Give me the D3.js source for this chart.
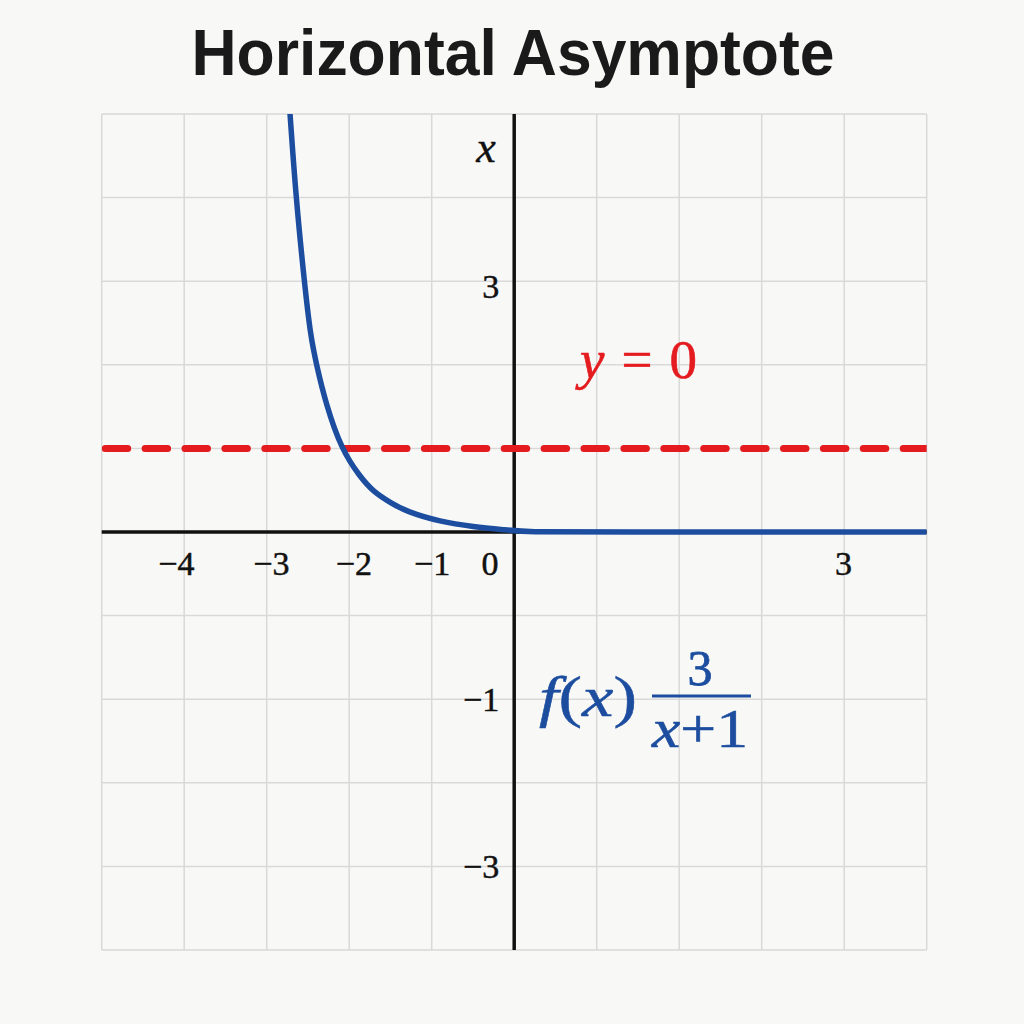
<!DOCTYPE html>
<html>
<head>
<meta charset="utf-8">
<script src="https://cdn.jsdelivr.net/npm/d3@7/dist/d3.min.js"></script>
<style>
  html, body { margin: 0; padding: 0; background: #f8f8f6; }
  svg { display: block; }
</style>
</head>
<body>
<svg id="chart" width="1024" height="1024"></svg>
<script>
// ---------- data ----------
const titleText = "Horizontal Asymptote";
const gridValues = [-5, -4, -3, -2, -1, 0, 1, 2, 3, 4, 5];
// curve (x, y in grid units)
const curveX = [-2.718, -2.645, -2.544, -2.468, -2.396, -2.285, -2.091, -1.869, -1.708, -1.493, -1.303, -0.899, -0.496, -0.091, 0.15, 1, 5];
const curveY = [5.012, 3.995, 2.994, 2.336, 2.0, 1.539, 0.981, 0.661, 0.482, 0.347, 0.243, 0.123, 0.063, 0.024, 0, 0, 0];
const asymptoteY = 1;
const xTickValues = [-4.1, -2.95, -1.95, -1.0, -0.3, 3.985];
const xTickLabels = ["\u22124", "\u22123", "\u22122", "\u22121", "0", "3"];
const yTickValues = [2.94, -2.0, -4.0];
const yTickLabels = ["3", "\u22121", "\u22123"];

// ---------- setup ----------
const svg = d3.select("#chart");
const W = 1024, H = 1024;
const pLeft = 101.7, pRight = 926.7, pTop = 114, pBottom = 950;

svg.append("rect").attr("width", W).attr("height", H).attr("fill", "#f8f8f6");

const x = d3.scaleLinear().domain([-5, 5]).range([pLeft, pRight]);
const y = d3.scaleLinear().domain([-5, 5]).range([pBottom, pTop]);

// title
svg.append("text")
  .attr("x", 513).attr("y", 75)
  .attr("text-anchor", "middle")
  .attr("font-family", "'Liberation Sans', Arial, sans-serif")
  .attr("font-weight", "bold")
  .attr("font-size", 64)
  .attr("fill", "#1a1a1a")
  .attr("textLength", 643)
  .attr("lengthAdjust", "spacingAndGlyphs")
  .text(titleText);

// grid
const grid = svg.append("g").attr("stroke", "#d9d9d9").attr("stroke-width", 1.5);
grid.selectAll("line.v").data(gridValues).join("line")
  .attr("class", "v")
  .attr("x1", d => x(d)).attr("x2", d => x(d))
  .attr("y1", y(-5)).attr("y2", y(5));
grid.selectAll("line.h").data(gridValues).join("line")
  .attr("class", "h")
  .attr("y1", d => y(d)).attr("y2", d => y(d))
  .attr("x1", x(-5)).attr("x2", x(5));

// axes lines
svg.append("line")
  .attr("x1", x(0)).attr("x2", x(0)).attr("y1", y(5)).attr("y2", y(-5))
  .attr("stroke", "#111").attr("stroke-width", 3.5);
svg.append("line")
  .attr("x1", x(-5)).attr("x2", x(5)).attr("y1", y(0)).attr("y2", y(0))
  .attr("stroke", "#111").attr("stroke-width", 3.5);

// tick labels via d3 axes
const serif = "'Liberation Serif', 'Times New Roman', serif";
const xAxis = d3.axisBottom(x)
  .tickValues(xTickValues)
  .tickFormat((d, i) => xTickLabels[i])
  .tickSize(0).tickPadding(0);
const gx = svg.append("g").attr("transform", `translate(0, ${y(0) + 20})`).call(xAxis);
gx.select(".domain").remove();
gx.selectAll("text")
  .attr("font-family", serif)
  .attr("font-size", 34).attr("fill", "#111")
  .attr("stroke", "#111").attr("stroke-width", 0.5)
  .attr("dy", "0.69em");

const yAxis = d3.axisLeft(y)
  .tickValues(yTickValues)
  .tickFormat((d, i) => yTickLabels[i])
  .tickSize(0).tickPadding(0);
const gy = svg.append("g").attr("transform", `translate(${x(0) - 15}, 0)`).call(yAxis);
gy.select(".domain").remove();
gy.selectAll("text")
  .attr("font-family", serif)
  .attr("font-size", 34).attr("fill", "#111")
  .attr("stroke", "#111").attr("stroke-width", 0.5)
  .attr("dy", "0.34em");

// x label at top of vertical axis
svg.append("text")
  .attr("x", 486).attr("y", 162)
  .attr("text-anchor", "middle")
  .attr("font-family", serif)
  .attr("font-style", "italic")
  .attr("font-size", 44).attr("fill", "#111")
  .attr("stroke", "#111").attr("stroke-width", 0.4)
  .text("x");

// clip
svg.append("clipPath").attr("id", "plotclip")
  .append("rect").attr("x", pLeft).attr("y", pTop).attr("width", pRight - pLeft).attr("height", pBottom - pTop);

// asymptote dashed line
svg.append("line")
  .attr("clip-path", "url(#plotclip)")
  .attr("x1", x(-5) + 3.5).attr("x2", x(5) + 10)
  .attr("y1", y(asymptoteY)).attr("y2", y(asymptoteY))
  .attr("stroke", "#e41b1f").attr("stroke-width", 7)
  .attr("stroke-linecap", "round")
  .attr("stroke-dasharray", "22.5,17.4");

// curve
const pts = curveX.map((d, i) => [d, curveY[i]]);
const line = d3.line().x(d => x(d[0])).y(d => y(d[1])).curve(d3.curveBasis);
svg.append("path")
  .attr("clip-path", "url(#plotclip)")
  .attr("d", line(pts))
  .attr("fill", "none")
  .attr("stroke", "#1c4d9f")
  .attr("stroke-width", 5.5)
  .attr("stroke-linejoin", "round");

// y = 0 label
const t1 = svg.append("text")
  .attr("x", 580).attr("y", 378)
  .attr("font-family", serif).attr("font-size", 55).attr("fill", "#e41b1f")
  .attr("stroke", "#e41b1f").attr("stroke-width", 0.6)
  .attr("textLength", 117).attr("lengthAdjust", "spacing");
t1.append("tspan").attr("font-style", "italic").text("y");
t1.append("tspan").text(" = 0");

// f(x) label
const blue = "#1c4d9f";
const t2 = svg.append("text")
  .attr("x", 539).attr("y", 716)
  .attr("font-family", serif).attr("font-size", 56).attr("fill", blue)
  .attr("stroke", blue).attr("stroke-width", 0.5)
  .attr("textLength", 98).attr("lengthAdjust", "spacingAndGlyphs");
t2.append("tspan").attr("font-style", "italic").text("f");
t2.append("tspan").text("(");
t2.append("tspan").attr("font-style", "italic").text("x");
t2.append("tspan").text(")");

// fraction
svg.append("text")
  .attr("x", 700).attr("y", 685)
  .attr("text-anchor", "middle")
  .attr("font-family", serif).attr("font-size", 50).attr("fill", blue)
  .attr("stroke", blue).attr("stroke-width", 0.8)
  .text("3");
svg.append("line")
  .attr("x1", 652).attr("x2", 751).attr("y1", 696).attr("y2", 696)
  .attr("stroke", blue).attr("stroke-width", 3);
const t3 = svg.append("text")
  .attr("x", 652).attr("y", 747)
  .attr("font-family", serif).attr("font-size", 55).attr("fill", blue)
  .attr("stroke", blue).attr("stroke-width", 0.6)
  .attr("textLength", 96).attr("lengthAdjust", "spacingAndGlyphs");
t3.append("tspan").attr("font-style", "italic").text("x");
t3.append("tspan").text("+1");
</script>
</body>
</html>
